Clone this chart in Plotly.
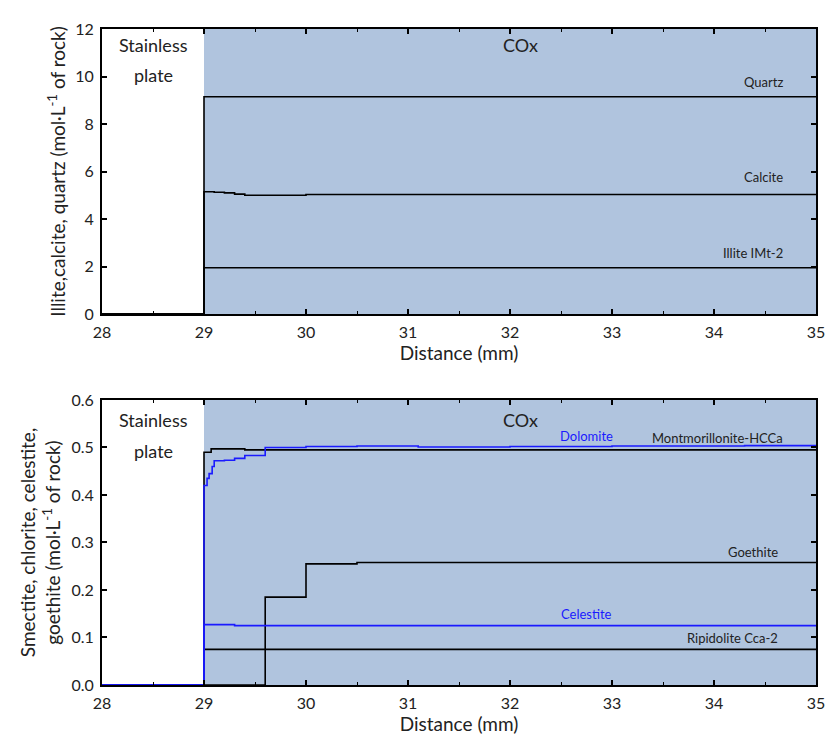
import plotly.graph_objects as go
from plotly.subplots import make_subplots

# ---- data (top panel) ----
x_quartz = [28, 29, 35]
y_quartz = [0, 9.15, 9.15]
x_calcite = [28, 29, 29.1, 29.2, 29.3, 29.4, 30.0, 35]
y_calcite = [0, 5.15, 5.13, 5.10, 5.05, 5.00, 5.03, 5.03]
x_illite = [28, 29, 35]
y_illite = [0, 1.95, 1.95]

# ---- data (bottom panel) ----
x_montm = [28, 29, 29.07, 29.4, 35]
y_montm = [0, 0.49, 0.497, 0.495, 0.495]
x_dolo = [28, 29, 29.03, 29.05, 29.08, 29.1, 29.2, 29.3, 29.4, 29.6, 30.0, 30.5, 31.1, 32.0, 33.0, 34.3, 35]
y_dolo = [0, 0.42, 0.435, 0.445, 0.46, 0.472, 0.473, 0.477, 0.483, 0.50, 0.502, 0.503, 0.501, 0.502, 0.503, 0.504, 0.505]
x_goeth = [28, 29.6, 30.0, 30.5, 35]
y_goeth = [0, 0.185, 0.255, 0.258, 0.258]
x_celes = [28, 29, 29.3, 35]
y_celes = [0, 0.127, 0.125, 0.125]
x_ripid = [28, 29, 35]
y_ripid = [0, 0.075, 0.075]

x_cox_start, x_end = 29, 35

FONT = "Lato"
TXT = "#222222"

fig = make_subplots(rows=2, cols=1, vertical_spacing=0.131)

def add(x, y, color, row):
    fig.add_trace(go.Scatter(x=x, y=y, mode="lines", line=dict(color=color, width=1.6, shape="hv"),
                             showlegend=False, hoverinfo="skip"), row=row, col=1)

add(x_quartz, y_quartz, "black", 1)
add(x_calcite, y_calcite, "black", 1)
add(x_illite, y_illite, "black", 1)

add(x_ripid, y_ripid, "black", 2)
add(x_goeth, y_goeth, "black", 2)
add(x_montm, y_montm, "black", 2)
add(x_celes, y_celes, "#1a1aff", 2)
add(x_dolo, y_dolo, "#1a1aff", 2)

# shaded COx region
for xr, yr in [("x", "y domain"), ("x2", "y2 domain")]:
    fig.add_shape(type="rect", xref=xr, yref=yr, x0=x_cox_start, x1=x_end, y0=0, y1=1,
                  fillcolor="#b0c4de", line=dict(width=0), layer="below")

axis_common = dict(showline=True, linecolor="black", linewidth=2, mirror="ticks", ticks="inside",
                   ticklen=5, tickwidth=1.5, tickcolor="black", showgrid=False, zeroline=False,
                   automargin=False, ticklabelstandoff=3, ticklabeloverflow="allow",
                   tickfont=dict(family=FONT, size=16, color=TXT))
xcommon = dict(axis_common, range=[28, 35], dtick=1, tick0=28,
               minor=dict(ticks="inside", dtick=0.5, ticklen=3, tickwidth=1, tickcolor="black"),
               title=dict(text="Distance (mm)", font=dict(family=FONT, size=19, color=TXT), standoff=5))
fig.update_xaxes(**xcommon, row=1, col=1)
fig.update_xaxes(**xcommon, row=2, col=1)
fig.update_yaxes(**axis_common, range=[0, 12], dtick=2, tickformat="d",
                 title=dict(text="Illite,calcite, quartz (mol·L<sup>-1</sup> of rock)",
                            font=dict(family=FONT, size=19, color=TXT), standoff=5), row=1, col=1)
fig.update_yaxes(**axis_common, range=[0, 0.6], dtick=0.1, tickformat=".1f",
                 title=dict(text="Smectite, chlorite, celestite,<br>goethite (mol·L<sup>-1</sup> of rock)",
                            font=dict(family=FONT, size=19, color=TXT), standoff=6), row=2, col=1)

def ann(xref, yref, x, y, text, size=13, color=TXT, xanchor="center"):
    fig.add_annotation(xref=xref, yref=yref, x=x, y=y, text=text, showarrow=False,
                       font=dict(family=FONT, size=size, color=color), xanchor=xanchor, yanchor="middle")

ann("x", "y", 28.5, 11.33, "Stainless", 18)
ann("x", "y", 28.5, 10.06, "plate", 18)
ann("x", "y", 32.1, 11.33, "COx", 18)
ann("x", "y", 34.70, 9.77, "Quartz", xanchor="right")
ann("x", "y", 34.70, 5.77, "Calcite", xanchor="right")
ann("x", "y", 34.70, 2.57, "Illite IMt-2", xanchor="right")

ann("x2", "y2", 28.5, 0.558, "Stainless", 18)
ann("x2", "y2", 28.5, 0.493, "plate", 18)
ann("x2", "y2", 32.1, 0.558, "COx", 18)
ann("x2", "y2", 32.75, 0.524, "Dolomite", color="#1a1aff")
ann("x2", "y2", 34.70, 0.520, "Montmorillonite-HCCa", xanchor="right")
ann("x2", "y2", 34.65, 0.280, "Goethite", xanchor="right")
ann("x2", "y2", 32.75, 0.149, "Celestite", color="#1a1aff")
ann("x2", "y2", 34.65, 0.099, "Ripidolite Cca-2", xanchor="right")

fig.update_layout(width=825, height=738, margin=dict(l=102, r=9, t=29, b=53, autoexpand=False),
                  plot_bgcolor="white", paper_bgcolor="white")
fig.update_yaxes(domain=[0.5655, 1.0], row=1, col=1)
fig.update_yaxes(domain=[0.0, 0.4345], row=2, col=1)

fig.write_html("out.html")
